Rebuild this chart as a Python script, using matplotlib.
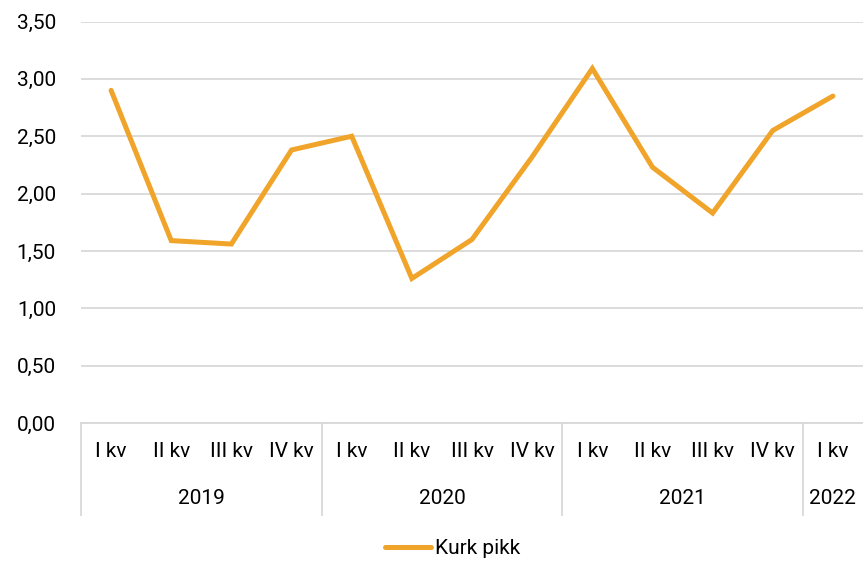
import numpy as np
import matplotlib.pyplot as plt
from matplotlib import font_manager

FONT = ['Liberation Sans Narrow', 'Roboto', 'DejaVu Sans']
plt.rcParams['font.family'] = FONT
FONTSIZE = 15

# andmed
quarters = ['I kv', 'II kv', 'III kv', 'IV kv',
            'I kv', 'II kv', 'III kv', 'IV kv',
            'I kv', 'II kv', 'III kv', 'IV kv',
            'I kv']
years = ['2019', '2020', '2021', '2022']
year_sizes = [4, 4, 4, 1]
kurk_pikk = [2.90, 1.59, 1.56, 2.38, 2.50, 1.26, 1.60, 2.32,
             3.09, 2.23, 1.83, 2.55, 2.85]
yticks = [0.0, 0.5, 1.0, 1.5, 2.0, 2.5, 3.0, 3.5]

COLOR = '#F0A42A'
GRID = '#d9d9d9'

fig = plt.figure(figsize=(8.63, 5.61), dpi=100)
ax = fig.add_axes([81 / 863, 1 - 423 / 561, (863 - 81) / 863, (423 - 21.5) / 561])

x = np.arange(len(quarters))
line, = ax.plot(x, kurk_pikk, color=COLOR, linewidth=3.6, solid_capstyle='round',
                solid_joinstyle='miter', label='Kurk pikk')

ax.set_xlim(-0.5, len(quarters) - 0.5)
ax.set_ylim(0, 3.5)
ax.set_yticks(yticks)
ax.set_yticklabels([f'{v:.2f}'.replace('.', ',') for v in yticks], fontsize=FONTSIZE)
ax.set_xticks(x)
ax.set_xticklabels(quarters, fontsize=FONTSIZE)
ax.tick_params(axis='both', length=0)
ax.tick_params(axis='x', pad=14)
ax.tick_params(axis='y', pad=18)

for s in ['top', 'right', 'left']:
    ax.spines[s].set_visible(False)
ax.spines['bottom'].set_color(GRID)
ax.spines['bottom'].set_linewidth(1.3)
ax.yaxis.grid(True, color=GRID, linewidth=1.3)
ax.set_axisbelow(True)

# aastate grupid
trans = ax.get_xaxis_transform()
sep_bottom = -(515 - 423) / 401.5
start = -0.5
bounds = [start]
for yr, n in zip(years, year_sizes):
    ax.text(start + n / 2, -(498 - 423) / 401.5, yr, transform=trans,
            ha='center', va='center', fontsize=FONTSIZE)
    start += n
    bounds.append(start)
for b in bounds[:-1]:
    ax.plot([b, b], [0, sep_bottom], transform=trans, color=GRID,
            linewidth=1.3, clip_on=False)

fig.legend(handles=[line], loc='center', bbox_to_anchor=(0.525, 1 - 549 / 561),
           frameon=False, fontsize=FONTSIZE, handlelength=2.2, handletextpad=0.2)

fig.savefig('out.png', dpi=100)
